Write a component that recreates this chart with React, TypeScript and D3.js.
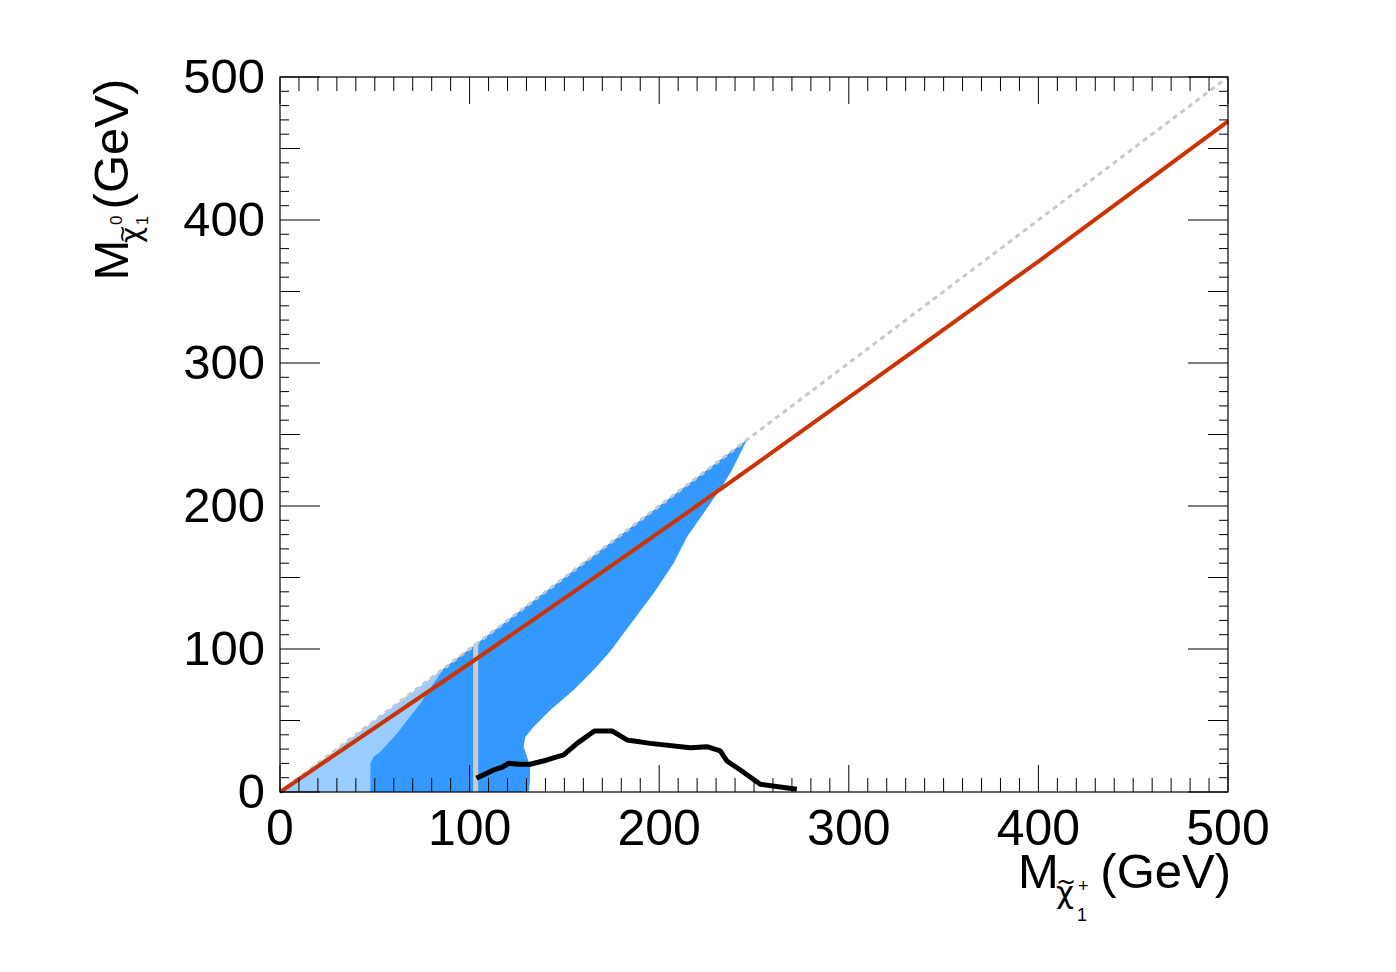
import React from "react";
import * as d3 from "d3";

// ---- data ----
const xTickValues = [0, 100, 200, 300, 400, 500];
const yTickValues = [0, 100, 200, 300, 400, 500];

// kinematic diagonal M(chi0) = M(chi+)
const diagX = [0, 500];
const diagY = [0, 500];

// red curve
const redX = [0, 95, 259, 301, 401, 500];
const redY = [0, 85.3, 236.9, 276.9, 372, 469];

// light blue region
const lightX = [0, 90, 90];
const lightY = [0, 0, 90];

// dark blue region (closed contour)
const darkX = [47.7, 131.2, 131.9, 131.9, 130.3, 128.5, 129.4, 133.8, 142.6, 154.9, 165.4, 173.3, 176, 186.5, 197.1, 207.6, 214.7, 223.4, 228.2, 233.1, 238.4, 246.3, 86.3, 81.1, 74.1, 61.8, 53, 49.4, 47.7];
const darkY = [0, 0, 8.4, 17.7, 24.7, 31.7, 38.7, 45.7, 57.3, 71.3, 85.3, 97, 101.6, 120.3, 139, 159.9, 178.5, 194.9, 204.2, 213.5, 225.2, 246.3, 86.3, 76, 62, 41, 28.2, 24.7, 20.1];

// vertical grey line
const vLineX = [103.2, 103.2];
const vLineY = [0, 104];

// black curve
const blackX = [103.6, 112.7, 117.1, 120.6, 125.9, 132, 140.8, 149.6, 156.7, 165.8, 175.1, 183, 195.3, 216.4, 225.2, 232.2, 235.7, 242.8, 253.3, 272.6];
const blackY = [9.6, 15.4, 17.3, 20.1, 19.4, 19.4, 22.4, 25.9, 34, 42.7, 42.7, 36.4, 34, 31, 31.7, 28.7, 21.7, 15.4, 5.4, 1.9];

const W = 1396;
const H = 972;
const FONT = "'Liberation Sans', Arial, Helvetica, sans-serif";
const GREEK = "'DejaVu Sans', sans-serif";

export default function App() {
  const x = d3.scaleLinear().domain([0, 500]).range([280, 1228]);
  const y = d3.scaleLinear().domain([0, 500]).range([792, 77]);

  const zip = (xs: number[], ys: number[]) => xs.map((v, i) => [v, ys[i]] as [number, number]);
  const line = d3.line<[number, number]>().x((d) => x(d[0])).y((d) => y(d[1]));
  const redLine = d3
    .line<[number, number]>()
    .x((d) => x(d[0]))
    .y((d) => y(d[1]))
    .curve(d3.curveMonotoneX);

  const minor = d3.range(0, 501, 10);

  const [x0, x1] = x.range();
  const [y0, y1] = y.range();

  return (
    <svg
      width={W}
      height={H}
      style={{ position: "absolute", left: 0, top: 0, background: "#fff" }}
      fontFamily={FONT}
    >
      <rect x={0} y={0} width={W} height={H} fill="#fff" />
      {/* regions */}
      <path d={line(zip(lightX, lightY)) + "Z"} fill="#99ccff" />
      <path d={line(zip(darkX, darkY)) + "Z"} fill="#3399ff" />
      {/* diagonal */}
      <path
        d={line(zip(diagX, diagY)) || ""}
        fill="none"
        stroke="#c8c8c8"
        strokeWidth={3}
        strokeDasharray="5,4.4"
      />
      {/* vertical grey */}
      <path d={line(zip(vLineX, vLineY)) || ""} fill="none" stroke="#cccccc" strokeWidth={5} />
      {/* red */}
      <path d={redLine(zip(redX, redY)) || ""} fill="none" stroke="#cc3300" strokeWidth={4} />
      {/* black */}
      <path
        d={line(zip(blackX, blackY)) || ""}
        fill="none"
        stroke="#000"
        strokeWidth={5}
        strokeLinejoin="round"
      />

      {/* frame */}
      <rect x={x0} y={y1} width={x1 - x0} height={y0 - y1} fill="none" stroke="#000" strokeWidth={1.2} />

      {/* ticks */}
      <g stroke="#000" strokeWidth={1}>
        {minor.map((v) => {
          const len = v % 100 === 0 ? 27 : 14;
          return (
            <g key={"xt" + v}>
              <line x1={x(v)} x2={x(v)} y1={y0} y2={y0 - len} />
              <line x1={x(v)} x2={x(v)} y1={y1} y2={y1 + len} />
            </g>
          );
        })}
        {minor.map((v) => {
          const len = v % 100 === 0 ? 40 : v % 50 === 0 ? 20 : 9;
          return (
            <g key={"yt" + v}>
              <line x1={x0} x2={x0 + len} y1={y(v)} y2={y(v)} />
              <line x1={x1} x2={x1 - len} y1={y(v)} y2={y(v)} />
            </g>
          );
        })}
      </g>

      {/* tick labels */}
      {xTickValues.map((v) => (
        <text key={"xl" + v} x={x(v)} y={845} fontSize={50} textAnchor="middle" fill="#000">
          {v}
        </text>
      ))}
      {yTickValues.map((v) => (
        <text key={"yl" + v} x={265} y={y(v) + 16} fontSize={49} textAnchor="end" fill="#000">
          {v}
        </text>
      ))}

      {/* x title */}
      <g fill="#000">
        <text x={1018} y={888} fontSize={49}>M</text>
        <text x={1056} y={903} fontSize={31} fontFamily={GREEK}>{"\u03C7"}</text>
        <text x={1056} y={890} fontSize={24} fontFamily={GREEK}>~</text>
        <text x={1078} y={892} fontSize={18}>+</text>
        <text x={1077} y={921} fontSize={18}>1</text>
        <text x={1231} y={888} fontSize={49} textAnchor="end">(GeV)</text>
      </g>

      {/* y title */}
      <g fill="#000" transform="translate(128,0) rotate(-90)">
        <text x={-280.6} y={0} fontSize={49}>M</text>
        <text x={-243} y={13} fontSize={28} fontFamily={GREEK}>{"\u03C7"}</text>
        <text x={-243} y={1} fontSize={22} fontFamily={GREEK}>~</text>
        <text x={-225} y={-6} fontSize={17}>0</text>
        <text x={-225} y={20} fontSize={16}>1</text>
        <text x={-78.7} y={0} fontSize={49} textAnchor="end">(GeV)</text>
      </g>
    </svg>
  );
}
